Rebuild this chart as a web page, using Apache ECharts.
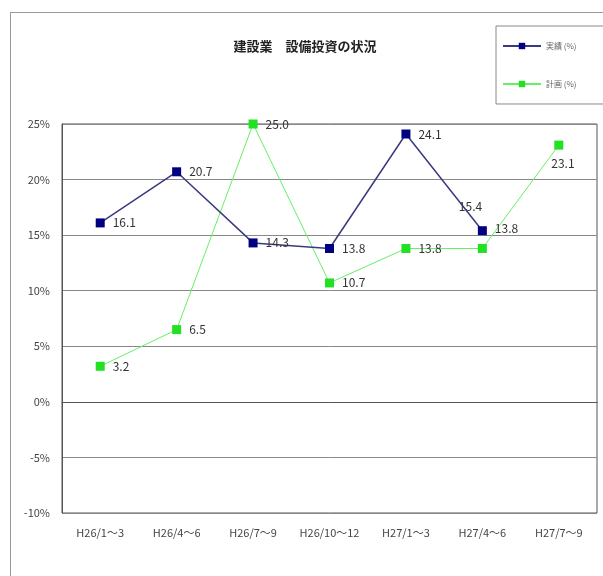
<!DOCTYPE html>
<html>
<head>
<meta charset="utf-8">
<script src="https://cdn.jsdelivr.net/npm/echarts@6/dist/echarts.min.js"></script>
<style>
  html, body { margin: 0; padding: 0; background: #fff; }
  #chart { width: 603px; height: 576px; }
  .frame { position: absolute; left: 10px; top: 12px; width: 600px; height: 600px; border: 1px solid #999; box-sizing: border-box; pointer-events: none; }
</style>
</head>
<body>
<div id="chart"></div>
<div class="frame"></div>
<script>
// 四半期ラベル
const categories = ['H26/1〜3', 'H26/4〜6', 'H26/7〜9', 'H26/10〜12', 'H27/1〜3', 'H27/4〜6', 'H27/7〜9'];
// 実績 (%)
const actualValues = [16.1, 20.7, 14.3, 13.8, 24.1, 15.4, null];
// 計画 (%)
const planValues = [3.2, 6.5, 25.0, 10.7, 13.8, 13.8, 23.1];

const chart = echarts.init(document.getElementById('chart'));

const labelFont = {
  fontFamily: '"Noto Sans CJK JP", sans-serif',
  fontSize: 12,
  color: '#333'
};

const option = {
  animation: false,
  title: {
    text: '建設業　設備投資の状況',
    left: 300,
    top: 35,
    textAlign: 'center',
    textStyle: {
      fontFamily: '"Noto Sans CJK JP", sans-serif',
      fontSize: 13,
      fontWeight: 'bold',
      color: '#222'
    }
  },
  legend: {
    orient: 'vertical',
    left: 496,
    top: 26,
    padding: [16, 40, 16, 6],
    itemGap: 30,
    itemWidth: 38,
    itemHeight: 8,
    borderColor: '#888',
    borderWidth: 1,
    textStyle: {
      fontFamily: '"Noto Sans CJK JP", sans-serif',
      fontSize: 8,
      color: '#666'
    },
    data: ['実績 (%)', '計画 (%)']
  },
  grid: {
    left: 62,
    right: 6,
    top: 124,
    bottom: 63,
    show: true,
    borderColor: '#555',
    borderWidth: 1
  },
  xAxis: {
    type: 'category',
    data: categories,
    boundaryGap: true,
    axisLine: { lineStyle: { color: '#555' } },
    axisTick: { show: false },
    axisLabel: {
      fontFamily: '"Noto Sans CJK JP", sans-serif',
      fontSize: 11,
      color: '#444',
      margin: 14,
      interval: 0
    }
  },
  yAxis: {
    type: 'value',
    min: -10,
    max: 25,
    interval: 5,
    axisLine: { show: true, lineStyle: { color: '#555' } },
    axisTick: { show: false },
    axisLabel: {
      formatter: '{value}%',
      fontFamily: '"Noto Sans CJK JP", sans-serif',
      fontSize: 11,
      color: '#444',
      margin: 12
    },
    splitLine: { lineStyle: { color: '#888' } }
  },
  series: [
    {
      name: '実績 (%)',
      type: 'line',
      data: actualValues,
      symbol: 'rect',
      symbolSize: 9,
      itemStyle: { color: '#000080' },
      lineStyle: { color: '#3a3a80', width: 1.5 },
      label: {
        show: true,
        position: 'right',
        distance: 8,
        formatter: p => p.value.toFixed(1),
        ...labelFont
      },
      labelLayout: p => (p.dataIndex === 5 ? { dy: -24, dx: -36 } : {}),
      z: 3
    },
    {
      name: '計画 (%)',
      type: 'line',
      data: planValues,
      symbol: 'rect',
      symbolSize: 9,
      itemStyle: { color: '#22e022' },
      lineStyle: { color: '#66ee66', width: 1 },
      label: {
        show: true,
        position: 'right',
        distance: 8,
        formatter: p => p.value.toFixed(1),
        ...labelFont
      },
      labelLayout: p => {
        if (p.dataIndex === 6) return { dy: 18, dx: -20 };
        if (p.dataIndex === 5) return { dy: -20 };
        return {};
      },
      z: 2
    }
  ]
};

chart.setOption(option);
</script>
</body>
</html>
